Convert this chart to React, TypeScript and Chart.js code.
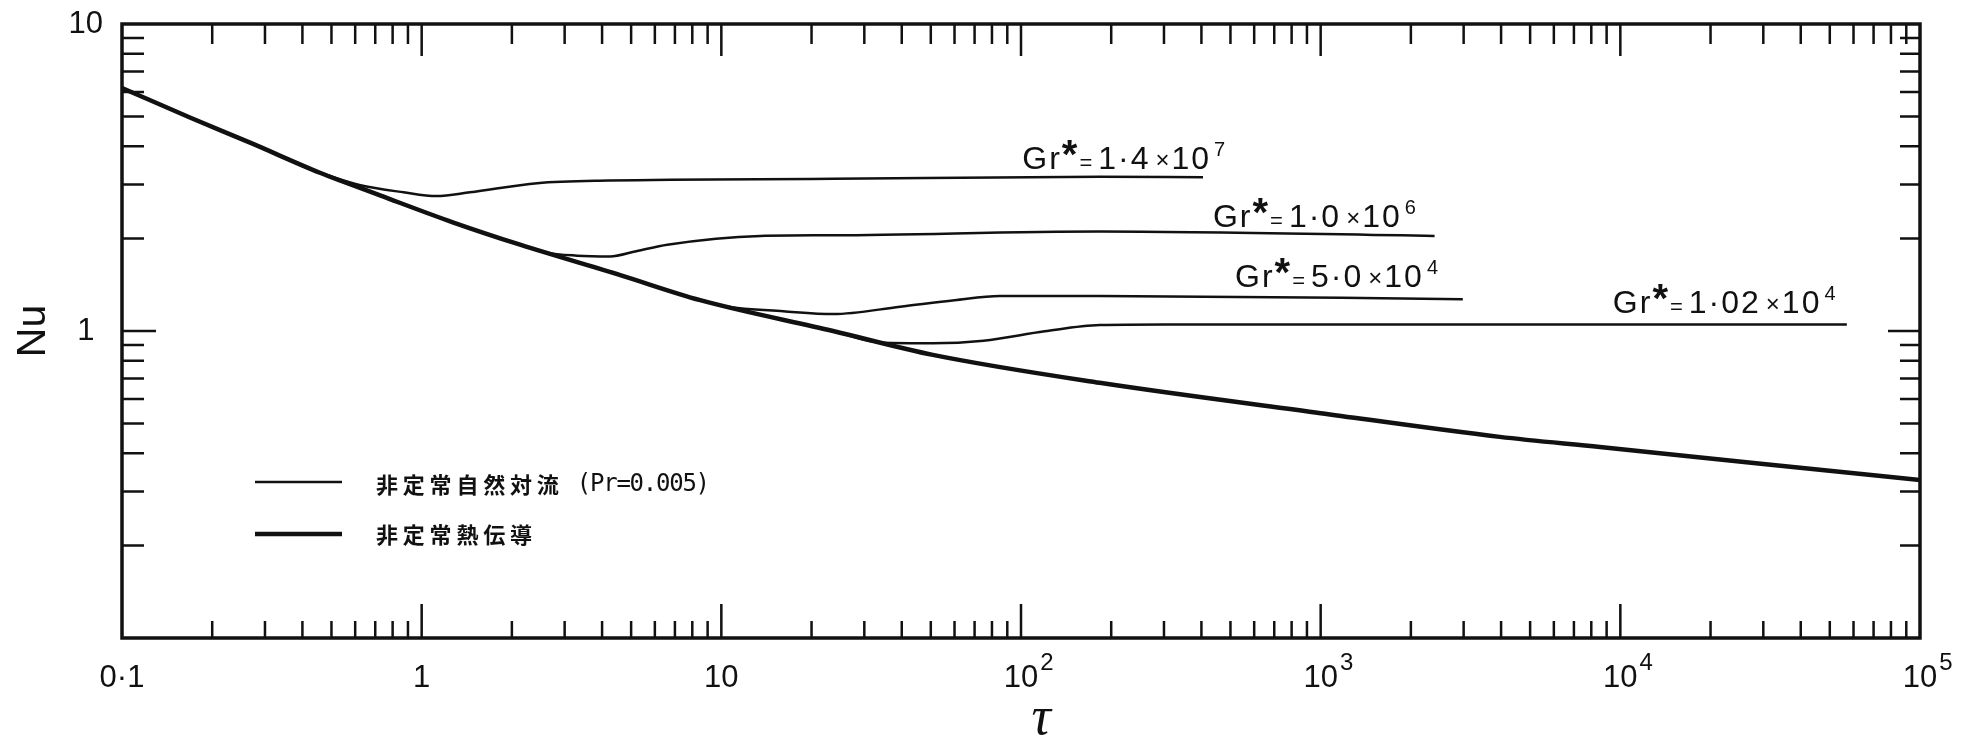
import React, { useEffect, useRef } from 'react';
import { Chart, registerables } from 'chart.js';
Chart.register(...registerables);

// ---- data ----
const condTau = [0.1, 0.17, 0.27, 0.46, 0.73, 1.27, 2.13, 4.6, 8.5, 23.6, 50.8, 183, 1000, 3960, 8550, 30000, 100000];
const condNu = [6.19, 4.94, 4.09, 3.27, 2.76, 2.26, 1.91, 1.52, 1.26, 1.0, 0.836, 0.678, 0.54, 0.452, 0.419, 0.369, 0.327];

const gr1Tau = [0.46, 0.62, 0.87, 1.12, 1.45, 2.43, 4.2, 23.6, 183, 405];
const gr1Nu = [3.27, 2.99, 2.83, 2.75, 2.83, 3.03, 3.09, 3.13, 3.18, 3.17];

const gr2Tau = [2.13, 2.6, 3.3, 4.25, 5.2, 6.6, 13.5, 23.6, 183, 2400];
const gr2Nu = [1.91, 1.8, 1.76, 1.75, 1.82, 1.91, 2.04, 2.05, 2.11, 2.04];

const gr3Tau = [8.5, 10.5, 16.1, 23.6, 39.5, 60, 85, 183, 2980];
const gr3Nu = [1.26, 1.2, 1.16, 1.135, 1.2, 1.26, 1.3, 1.3, 1.27];

const gr4Tau = [23.6, 34.6, 50.8, 75, 120, 183, 300, 57000];
const gr4Nu = [1.0, 0.915, 0.912, 0.93, 0.998, 1.046, 1.05, 1.05];

const grMantissas = ['1·4', '1·0', '5·0', '1·02'];
const grExponents = ['7', '6', '4', '4'];
const grLabelTau = [101, 437, 518, 9440];
const grLabelNu = [3.37, 2.18, 1.39, 1.145];

const xMajor = [0.1, 1, 10, 100, 1000, 10000, 100000];
const xMajorLabels = ['0·1', '1', '10', '10', '10', '10', '10'];
const xMajorExponents = ['', '', '', '2', '3', '4', '5'];
const yMajor = [0.1, 1, 10];
const yMajorLabels = ['', '1', '10'];

const legendLabels = ['非定常自然対流 (Pr=0.005)', '非定常熱伝導'];
const xTitle = '\u2002\u2005τ';
const yTitle = 'Nu';

const INK = '#111111';

function pts(xs: number[], ys: number[]) {
  return xs.map((x, i) => ({ x, y: ys[i] }));
}

function logTicks(min: number, max: number) {
  const out: { value: number; major: boolean }[] = [];
  const e0 = Math.round(Math.log10(min));
  const e1 = Math.round(Math.log10(max));
  for (let e = e0; e < e1; e++) {
    for (let m = 1; m <= 9; m++) out.push({ value: m * Math.pow(10, e), major: m === 1 });
  }
  out.push({ value: max, major: true });
  return out;
}

function majorLabel(v: number, majors: number[], labels: string[]) {
  const l = Math.log10(v);
  if (Math.abs(l - Math.round(l)) > 1e-9) return '';
  const idx = majors.findIndex((m) => Math.abs(Math.log10(m) - l) < 1e-9);
  return idx >= 0 ? labels[idx] : '';
}

function setSpacing(ctx: any, s: string) {
  if ('letterSpacing' in ctx) ctx.letterSpacing = s;
}

const decorPlugin = {
  id: 'decor',
  afterDraw(chart: any) {
    const { ctx, chartArea: ca } = chart;
    const xs = chart.scales.x;
    const ys = chart.scales.y;
    ctx.save();
    ctx.strokeStyle = INK;
    ctx.fillStyle = INK;
    // frame
    ctx.lineWidth = 3.5;
    ctx.strokeRect(ca.left, ca.top, ca.right - ca.left, ca.bottom - ca.top);
    // inward ticks
    ctx.lineWidth = 2.5;
    ctx.beginPath();
    const xt = xs.ticks;
    for (let i = 1; i < xt.length - 1; i++) {
      const p = xs.getPixelForValue(xt[i].value);
      const maj = xt[i].major;
      ctx.moveTo(p, ca.bottom);
      ctx.lineTo(p, ca.bottom - (maj ? 34 : 17));
      ctx.moveTo(p, ca.top);
      ctx.lineTo(p, ca.top + (maj ? 32 : 20));
    }
    const yt = ys.ticks;
    for (let i = 1; i < yt.length - 1; i++) {
      const p = ys.getPixelForValue(yt[i].value);
      const maj = yt[i].major;
      ctx.moveTo(ca.left, p);
      ctx.lineTo(ca.left + (maj ? 34 : 22), p);
      ctx.moveTo(ca.right, p);
      ctx.lineTo(ca.right - (maj ? 32 : 20), p);
    }
    ctx.stroke();

    // exponents of the x tick labels
    ctx.textAlign = 'left';
    ctx.textBaseline = 'alphabetic';
    for (let i = 0; i < xMajor.length; i++) {
      if (!xMajorExponents[i]) continue;
      const p = xs.getPixelForValue(xMajor[i]);
      ctx.font = "31px 'Liberation Sans'";
      const w = ctx.measureText(xMajorLabels[i]).width;
      ctx.font = "24px 'Liberation Sans'";
      ctx.fillText(xMajorExponents[i], p + w / 2 + 2, ca.bottom + 32);
    }

    // Gr* labels
    for (let i = 0; i < grMantissas.length; i++) {
      let x = xs.getPixelForValue(grLabelTau[i]);
      const y = ys.getPixelForValue(grLabelNu[i]);
      setSpacing(ctx, '2px');
      ctx.font = "32px 'Liberation Sans'";
      ctx.fillText('Gr', x, y);
      x += ctx.measureText('Gr').width;
      ctx.font = "bold 40px 'Liberation Sans'";
      ctx.fillText('*', x, y - 1);
      x += ctx.measureText('*').width;
      ctx.font = "22px 'Liberation Sans'";
      ctx.fillText('=', x, y + 1);
      x += ctx.measureText('=').width + 4;
      ctx.font = "32px 'Liberation Sans'";
      ctx.fillText(grMantissas[i], x, y);
      x += ctx.measureText(grMantissas[i]).width + 5;
      ctx.font = "24px 'Liberation Sans'";
      ctx.fillText('×', x, y - 1);
      x += ctx.measureText('×').width;
      ctx.font = "32px 'Liberation Sans'";
      ctx.fillText('10', x, y);
      x += ctx.measureText('10').width + 3;
      ctx.font = "20px 'Liberation Sans'";
      ctx.fillText(grExponents[i], x, y - 13);
      setSpacing(ctx, '0px');
    }

    // legend
    const lx0 = ca.left + 133;
    const lx1 = ca.left + 220;
    const rows = [ca.top + 458, ca.top + 510];
    const widths = [2.5, 4.5];
    for (let r = 0; r < 2; r++) {
      ctx.lineWidth = widths[r];
      ctx.lineCap = 'butt';
      ctx.beginPath();
      ctx.moveTo(lx0, rows[r]);
      ctx.lineTo(lx1, rows[r]);
      ctx.stroke();
      ctx.textBaseline = 'middle';
      let x = ca.left + 254;
      const ty = rows[r] + (r === 0 ? 3 : 1);
      for (const ch of legendLabels[r]) {
        const ascii = ch.charCodeAt(0) < 128;
        ctx.font = ascii ? "24px 'DejaVu Sans Mono'" : "bold 22px 'Noto Sans CJK JP'";
        ctx.fillText(ch, x, ty);
        x += ascii ? 13.2 : 26.8;
      }
    }
    ctx.restore();
  },
};

export default function App() {
  const ref = useRef<HTMLCanvasElement | null>(null);
  useEffect(() => {
    if (!ref.current) return;
    Chart.defaults.font.family = "'Liberation Sans', 'DejaVu Sans'";
    const thin = { borderColor: INK, borderWidth: 2.5, pointRadius: 0, cubicInterpolationMode: 'monotone' as const, fill: false };
    const chart = new Chart(ref.current, {
      type: 'line',
      data: {
        datasets: [
          { label: 'cond', data: pts(condTau, condNu), borderColor: INK, borderWidth: 4.5, pointRadius: 0, cubicInterpolationMode: 'monotone', fill: false },
          { label: 'Gr=1.4e7', data: pts(gr1Tau, gr1Nu), ...thin },
          { label: 'Gr=1.0e6', data: pts(gr2Tau, gr2Nu), ...thin },
          { label: 'Gr=5.0e4', data: pts(gr3Tau, gr3Nu), ...thin },
          { label: 'Gr=1.02e4', data: pts(gr4Tau, gr4Nu), ...thin },
        ],
      },
      options: {
        responsive: false,
        animation: false,
        layout: { padding: { left: 0, top: 16, right: 40, bottom: 0 } },
        plugins: { legend: { display: false }, tooltip: { enabled: false } },
        scales: {
          x: {
            type: 'logarithmic',
            min: 0.1,
            max: 100000,
            grid: { display: false, drawTicks: false },
            border: { display: false },
            afterBuildTicks: (s: any) => { s.ticks = logTicks(0.1, 100000); },
            afterFit: (s: any) => { s.height = 100; s.paddingLeft = 0; s.paddingRight = 0; },
            ticks: {
              autoSkip: false,
              maxRotation: 0,
              padding: 22,
              color: INK,
              font: { size: 31, lineHeight: 1.2 },
              callback: (v: any) => majorLabel(Number(v), xMajor, xMajorLabels),
            },
            title: {
              display: true,
              text: xTitle,
              color: INK,
              font: { family: "'Liberation Serif'", style: 'italic', size: 54 },
              padding: { top: 0, bottom: -14 },
            },
          },
          y: {
            type: 'logarithmic',
            min: 0.1,
            max: 10,
            grid: { display: false, drawTicks: false },
            border: { display: false },
            afterBuildTicks: (s: any) => { s.ticks = logTicks(0.1, 10); },
            afterFit: (s: any) => { s.width = 114; s.paddingTop = 0; s.paddingBottom = 0; },
            ticks: {
              autoSkip: false,
              crossAlign: 'center',
              padding: 19,
              color: INK,
              font: { size: 31, lineHeight: 1.0 },
              callback: (v: any) => majorLabel(Number(v), yMajor, yMajorLabels),
            },
            title: {
              display: true,
              text: yTitle,
              color: INK,
              font: { size: 41 },
              padding: { top: 1, bottom: 0 },
            },
          },
        },
      },
      plugins: [decorPlugin],
    } as any);
    return () => chart.destroy();
  }, []);
  return <canvas ref={ref} width={1952} height={730} style={{ display: 'block' }} />;
}
